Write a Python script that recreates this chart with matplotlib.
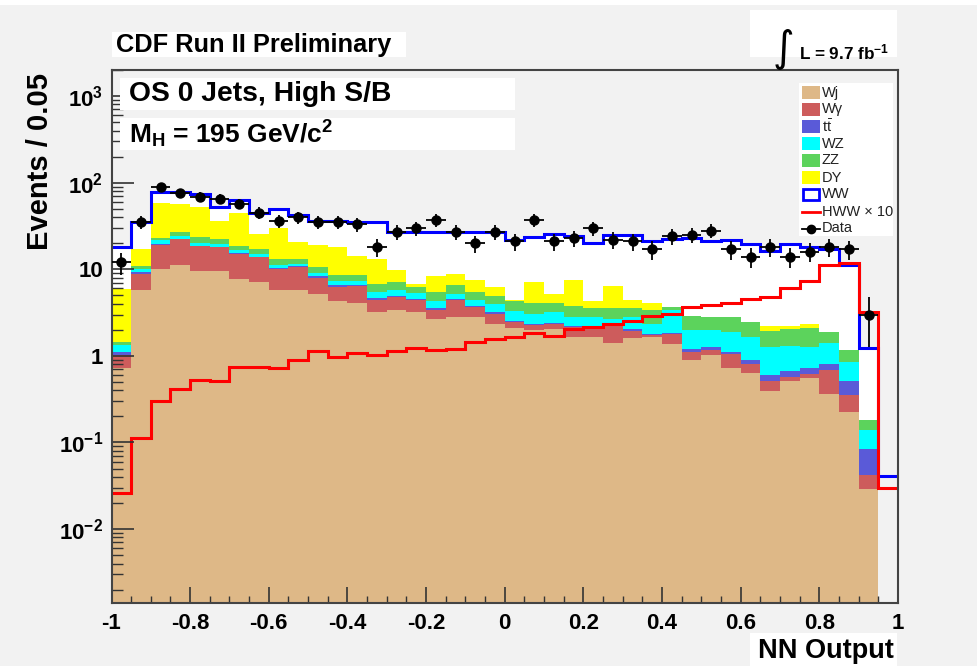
import numpy as np
import matplotlib.pyplot as plt
from matplotlib.patches import Rectangle
from matplotlib.lines import Line2D
from matplotlib.ticker import MultipleLocator, LogLocator, NullFormatter

plt.rcParams['font.family'] = ['Liberation Sans', 'DejaVu Sans']
plt.rcParams['mathtext.fontset'] = 'custom'
plt.rcParams['mathtext.rm'] = 'Liberation Sans'
plt.rcParams['mathtext.bf'] = 'Liberation Sans:bold'
plt.rcParams['mathtext.it'] = 'Liberation Sans:italic'

# NN output bins, width 0.05
edges = np.linspace(-1, 1, 41)
centers = 0.5 * (edges[:-1] + edges[1:])

# cumulative stack tops (events / 0.05)
top_wj = [0.72, 5.8, 10.2, 11.3, 9.5, 9.5, 7.8, 7.1, 5.8, 5.7,
          5.2, 4.25, 4.06, 3.19, 3.4, 3.19, 2.67, 2.79, 2.79, 2.34,
          2.1, 1.99, 2.04, 1.63, 1.65, 1.39, 1.59, 1.63, 1.37, 0.90,
          1.03, 0.73, 0.64, 0.39, 0.51, 0.56, 0.36, 0.225, 0.029, 0]
top_wg = [1.02, 8.9, 19.0, 22.1, 18.5, 17.9, 15.2, 13.7, 10.0, 10.6,
          8.0, 6.3, 6.4, 4.44, 4.77, 4.36, 3.4, 4.36, 3.65, 3.05,
          2.44, 2.27, 2.33, 2.13, 2.13, 2.23, 1.95, 1.74, 1.79, 1.1,
          1.16, 1.05, 0.81, 0.51, 0.57, 0.61, 0.68, 0.35, 0.042, 0]
top_tt = [1.11, 9.3, 19.8, 22.5, 18.8, 18.2, 15.5, 14.0, 10.3, 10.9,
          8.3, 6.5, 6.6, 4.6, 4.95, 4.5, 3.55, 4.5, 3.8, 3.2,
          2.55, 2.35, 2.42, 2.2, 2.2, 2.3, 2.02, 1.8, 1.85, 1.2,
          1.27, 1.12, 0.89, 0.60, 0.67, 0.73, 0.80, 0.51, 0.084, 0]
top_wz = [1.33, 10.2, 21.7, 24.2, 20.2, 19.5, 16.6, 15.2, 11.1, 11.6,
          9.1, 7.25, 7.25, 5.4, 5.8, 5.3, 4.25, 5.2, 4.44, 4.0,
          3.34, 3.05, 3.19, 2.84, 2.79, 2.67, 2.79, 2.33, 3.4, 2.0,
          1.99, 1.87, 1.63, 1.28, 1.31, 1.28, 1.39, 0.86, 0.140, 0]
top_zz = [1.43, 10.8, 23.1, 27.2, 23.8, 22.1, 18.5, 17.1, 13.3, 13.3,
          10.5, 8.7, 8.6, 6.8, 7.1, 6.3, 5.4, 6.5, 5.4, 4.85,
          4.28, 4.06, 4.06, 3.8, 3.58, 3.58, 3.58, 3.4, 3.71, 2.92,
          2.84, 2.79, 2.44, 1.95, 2.04, 2.08, 1.87, 1.16, 0.184, 0]
top_dy = [5.97, 17.1, 58, 56.5, 53, 36.1, 44.4, 25.3, 30.2, 20.8,
          19.0, 17.9, 14.3, 13.3, 9.9, 6.7, 8.4, 8.9, 7.6, 6.3,
          4.44, 7.1, 5.2, 7.45, 4.25, 6.4, 4.44, 4.1, 3.71, 2.92,
          2.84, 2.79, 2.44, 2.23, 2.23, 2.33, 1.87, 1.16, 0.184, 0]
top_ww = [17.9, 34.9, 78, 78, 74.5, 53, 63, 44.4, 50, 42,
          36.5, 35.7, 35, 35, 27.2, 26.6, 26.6, 26.6, 27, 27,
          21.7, 23.8, 25.5, 24.4, 20.2, 24.6, 24.6, 21.3, 22.5, 22.7,
          21, 22, 19.5, 16.4, 19.5, 18, 17, 11.2, 1.22, 0.041]

hww_x10 = [0.026, 0.114, 0.30, 0.41, 0.53, 0.51, 0.745, 0.745, 0.73, 0.89,
           1.14, 0.97, 1.09, 1.03, 1.14, 1.23, 1.17, 1.19, 1.43, 1.58,
           1.63, 1.82, 1.71, 2.04, 2.17, 2.33, 2.55, 2.86, 3.05, 3.7,
           3.85, 4.05, 4.5, 4.8, 6.0, 7.4, 11.1, 11.8, 3.2, 0.030]

data = [12, 35, 90, 76, 69, 65, 57, 45, 36, 40,
        35, 35, 33, 18, 27, 30, 37, 27, 20, 27,
        21, 37, 21, 23, 30, 22, 21, 17, 24, 25,
        28, 17, 14, 18, 14, 16, 18, 17, 3, 0]

x_ticks = [-1, -0.8, -0.6, -0.4, -0.2, 0, 0.2, 0.4, 0.6, 0.8, 1]
x_labels = ['-1', '-0.8', '-0.6', '-0.4', '-0.2', '0', '0.2', '0.4', '0.6', '0.8', '1']
y_ticks = [1e-2, 1e-1, 1, 10, 100, 1000]
y_labels = [r'$\mathbf{10^{-2}}$', r'$\mathbf{10^{-1}}$', '1', '10',
            r'$\mathbf{10^{2}}$', r'$\mathbf{10^{3}}$']

legend_names = ['Wj', 'W\u03b3', r'$\mathrm{t\bar{t}}$', 'WZ', 'ZZ', 'DY', 'WW', 'HWW \u00d7 10', 'Data']

c_wj = '#deb887'
c_wg = '#cd5c5c'
c_tt = '#5a5ad8'
c_wz = '#00ffff'
c_zz = '#5cd35c'
c_dy = '#ffff00'
bg = '#f2f2f2'

W, H = 977, 666


def fx(x):
    return x / W


def fy(y):
    return 1 - y / H


fig = plt.figure(figsize=(9.77, 6.66), dpi=100, facecolor=bg)
ax = fig.add_axes([fx(111.5), fy(603), fx(898) - fx(111.5), fy(70) - fy(603)], facecolor=bg)

# thin white strip along the top edge
fig.add_artist(Rectangle((0, fy(5)), 1, fy(0) - fy(5), transform=fig.transFigure,
                         fc='white', ec='none'))

floor = 1e-4
prev = np.full(40, floor)
for top, col in [(top_wj, c_wj), (top_wg, c_wg), (top_tt, c_tt),
                 (top_wz, c_wz), (top_zz, c_zz), (top_dy, c_dy)]:
    t = np.maximum(np.array(top, dtype=float), floor)
    ax.stairs(t, edges, baseline=prev, fill=True, color=col, lw=0)
    prev = t

# WW on top of the stack (white fill, blue outline)
ax.stairs(np.array(top_ww[:39]), edges[:40], baseline=np.array(top_dy[:39]),
          fill=True, color='white', lw=0)
ax.stairs(top_ww, edges, baseline=None, color='#0000ff', lw=2.2)
ax.stairs(hww_x10, edges, baseline=None, color='#ff0000', lw=2.2)

d = np.array(data, dtype=float)
m = d > 0
ax.errorbar(centers[m], d[m], xerr=0.025, yerr=np.sqrt(d[m]), fmt='o',
            color='black', ms=6.5, elinewidth=1.3, capsize=0, zorder=5)

ax.set_xlim(-1, 1)
ax.set_yscale('log')
ax.set_ylim(1.4e-3, 2000)
ax.set_xticks(x_ticks)
ax.set_xticklabels(x_labels, fontweight='bold', fontsize=16)
ax.xaxis.set_minor_locator(MultipleLocator(0.05))
ax.set_yticks(y_ticks)
ax.set_yticklabels(y_labels, fontweight='bold', fontsize=16)
ax.yaxis.set_minor_locator(LogLocator(base=10, subs=np.arange(2, 10)))
ax.yaxis.set_minor_formatter(NullFormatter())

ax.tick_params(axis='x', which='major', direction='in', length=11.5, width=1.2,
               color='#333333', pad=7, top=False)
ax.tick_params(axis='x', which='minor', direction='in', length=5, width=1.0,
               color='#333333', top=False)
ax.tick_params(axis='y', which='major', direction='in', length=16, width=1.2,
               color='#333333', pad=6, right=False)
ax.tick_params(axis='y', which='minor', direction='in', length=8, width=1.0,
               color='#333333', right=False)
for s in ax.spines.values():
    s.set_color('#444444')
    s.set_linewidth(1.5)

# text boxes
fig.add_artist(Rectangle((fx(112), fy(57)), fx(406) - fx(112), fy(32) - fy(57),
                         transform=fig.transFigure, fc='white', ec='none'))
fig.text(fx(116), fy(45), 'CDF Run II Preliminary', fontsize=18.3,
         fontweight='bold', va='center', ha='left')

fig.add_artist(Rectangle((fx(120), fy(110)), fx(515) - fx(120), fy(78) - fy(110),
                         transform=fig.transFigure, fc='white', ec='none'))
fig.text(fx(129), fy(94), 'OS 0 Jets, High S/B', fontsize=20.3,
         fontweight='bold', va='center', ha='left')

fig.add_artist(Rectangle((fx(120), fy(150)), fx(515) - fx(120), fy(118) - fy(150),
                         transform=fig.transFigure, fc='white', ec='none'))
fig.text(fx(129), fy(134), r'$\mathbf{M_{H}}$' + ' = 195 GeV/c' + r'$\mathbf{^{2}}$',
         fontsize=19, fontweight='bold', va='center', ha='left')

fig.add_artist(Rectangle((fx(750), fy(57)), fx(897) - fx(750), fy(10) - fy(57),
                         transform=fig.transFigure, fc='white', ec='none'))
fig.text(fx(783), fy(49), '\u222b', fontsize=30, family=['DejaVu Sans'],
         va='center', ha='center')
fig.text(fx(799), fy(52), 'L = 9.7 fb' + r'$\mathbf{^{-1}}$', fontsize=12.3,
         fontweight='bold', va='center', ha='left')

fig.text(fx(40), fy(73), 'Events / 0.05', fontsize=21, fontweight='bold',
         rotation=90, va='top', ha='center')

fig.add_artist(Rectangle((fx(750), fy(666)), fx(897) - fx(750), fy(633) - fy(666),
                         transform=fig.transFigure, fc='white', ec='none'))
fig.text(fx(894), fy(658), 'NN Output', fontsize=19.5, fontweight='bold',
         va='baseline', ha='right')

# legend
fig.add_artist(Rectangle((fx(799), fy(236)), fx(893) - fx(799), fy(83) - fy(236),
                         transform=fig.transFigure, fc='white', ec='none'))
leg_cols = [c_wj, c_wg, c_tt, c_wz, c_zz, c_dy]
for i, name in enumerate(legend_names):
    yc = 92.5 + 17.0 * i
    if i < 6:
        fig.add_artist(Rectangle((fx(802), fy(yc + 6.5)), fx(820) - fx(802), fy(yc - 6.5) - fy(yc + 6.5),
                                 transform=fig.transFigure, fc=leg_cols[i], ec='none'))
    elif i == 6:
        fig.add_artist(Rectangle((fx(803), fy(yc + 5.5)), fx(819) - fx(803), fy(yc - 5.5) - fy(yc + 5.5),
                                 transform=fig.transFigure, fc='white', ec='#0000ff', lw=2))
    elif i == 7:
        fig.add_artist(Line2D([fx(802), fx(820)], [fy(yc), fy(yc)],
                              transform=fig.transFigure, color='#ff0000', lw=2))
    else:
        fig.add_artist(Line2D([fx(802), fx(820)], [fy(yc), fy(yc)],
                              transform=fig.transFigure, color='black', lw=1.3))
        fig.add_artist(Line2D([fx(811)], [fy(yc)], transform=fig.transFigure,
                              color='black', marker='o', ms=6, lw=0))
    fig.text(fx(822), fy(yc), name, fontsize=10.5, color='#222222',
             va='center', ha='left')

fig.savefig('out.png', dpi=100, facecolor=bg)
